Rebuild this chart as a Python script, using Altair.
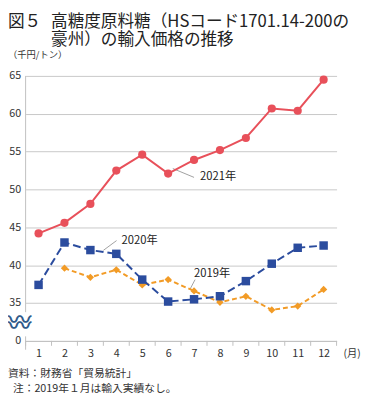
import altair as alt
import pandas as pd

FONT = "Noto Sans CJK JP"

# ---- data ----
months = list(range(1, 13))
v2021 = [44.2, 45.6, 48.1, 52.5, 54.6, 52.1, 53.9, 55.2, 56.8, 60.7, 60.4, 64.5]
v2020 = [37.4, 43.0, 42.0, 41.5, 38.1, 35.2, 35.5, 35.9, 37.9, 40.2, 42.3, 42.6]
v2019 = [None, 39.6, 38.4, 39.4, 37.4, 38.1, 36.6, 35.1, 35.9, 34.1, 34.6, 36.8]
y_ticks = [30, 35, 40, 45, 50, 55, 60, 65]
tick_bounds = [0.5 + i for i in range(13)]

series_names = ["2021年", "2020年", "2019年"]
label_x = [7.23, 4.2, 7.0]
label_y = [51.6, 43.25, 38.86]
leader_x = [6.18, 3.5, 6.84]
leader_y = [52.77, 41.96, 36.8]
leader_x2 = [7.0, 4.01, 7.04]
leader_y2 = [51.6, 43.25, 38.1]

title_fig = "図５"
title_l1 = "高糖度原料糖（HSコード1701.14-200の"
title_l2 = "豪州）の輸入価格の推移"
unit_text = "（千円/トン）"
month_text = "(月)"
source_text = "資料：財務省「貿易統計」"
note_text = "注：2019年１月は輸入実績なし。"

W, H = 318, 271
PL, PT, PR, PB = 18, 65, 26, 58

xscale = alt.Scale(domain=[0.5, 12.5], nice=False, zero=False)
yscale = alt.Scale(domain=[30, 65], nice=False, zero=False)
xaxis = alt.Axis(values=months, format="d", ticks=False, grid=False, domain=True,
                 domainColor="#BFBFBF", labelPadding=7, labelFontSize=11,
                 labelColor="#333333", labelFont=FONT, title=None, labelAngle=0)
yaxis = alt.Axis(values=y_ticks, ticks=False, domain=False, grid=True,
                 gridColor="#C8C8C8", labelPadding=5, labelFontSize=11,
                 labelColor="#333333", labelFont=FONT, title=None,
                 labelExpr="datum.value == 30 ? '0' : datum.label")


def X(f):
    return alt.X(f, type="quantitative", scale=xscale, axis=xaxis)


def Y(f):
    return alt.Y(f, type="quantitative", scale=yscale, axis=yaxis)


def series_df(vals):
    return pd.DataFrame({"m": months, "v": vals}).dropna()


d21 = series_df(v2021)
d20 = series_df(v2020)
d19 = series_df(v2019)

red, blue, orange = "#E8505A", "#2B4C9E", "#F29B26"

l21 = alt.Chart(d21).mark_line(color=red, strokeWidth=2).encode(x=X("m"), y=Y("v"))
p21 = alt.Chart(d21).mark_point(color=red, filled=True, opacity=1, size=70, shape="circle").encode(x=X("m"), y=Y("v"))
l20 = alt.Chart(d20).mark_line(color=blue, strokeWidth=2, strokeDash=[8, 4]).encode(x=X("m"), y=Y("v"))
p20 = alt.Chart(d20).mark_point(color=blue, filled=True, opacity=1, size=75, shape="square").encode(x=X("m"), y=Y("v"))
l19 = alt.Chart(d19).mark_line(color=orange, strokeWidth=2, strokeDash=[5, 3]).encode(x=X("m"), y=Y("v"))
p19 = alt.Chart(d19).mark_point(color=orange, filled=True, opacity=1, size=55, shape="diamond").encode(x=X("m"), y=Y("v"))

# x-axis ticks at month boundaries
ticks = alt.Chart(pd.DataFrame({"b": tick_bounds})).mark_rule(color="#BFBFBF", strokeWidth=1).encode(
    x=X("b"), y=alt.value(H), y2=alt.value(H + 5))

# broken y-axis line
yline = alt.Chart(pd.DataFrame({"b": [0.5], "lo": [33.8], "hi": [65]})).mark_rule(color="#BFBFBF", strokeWidth=1).encode(
    x=X("b"), y=Y("lo"), y2=alt.Y2("hi"))
yline_low = alt.Chart(pd.DataFrame({"b": [0.5], "lo": [30.6]})).mark_rule(color="#BFBFBF", strokeWidth=1).encode(
    x=X("b"), y=Y("lo"), y2=alt.value(H + 9))

# series labels and leader lines
lab_df = pd.DataFrame({"t": series_names, "x": label_x, "y": label_y})
labels = alt.Chart(lab_df).mark_text(align="left", baseline="middle", fontSize=11.5, font=FONT, color="#222222").encode(
    x=X("x"), y=Y("y"), text="t:N")
lead_df = pd.DataFrame({"x": leader_x, "y": leader_y, "x2": leader_x2, "y2": leader_y2})
leaders = alt.Chart(lead_df).mark_rule(color="#888888", strokeWidth=0.8).encode(
    x=X("x"), y=Y("y"), x2="x2:Q", y2="y2:Q")

one = alt.Data(values=[{}])


def free_text(txt, px, py, size, color="#333333", align="left", weight="normal"):
    return alt.Chart(one).mark_text(align=align, baseline="middle", fontSize=size, font=FONT,
                                    color=color, fontWeight=weight).encode(
        x=alt.value(px), y=alt.value(py), text=alt.value(txt))


t_fig = free_text(title_fig, -PL, -55, 17, "#222222")
t_l1 = free_text(title_l1, 26, -55, 17, "#222222")
t_l2 = free_text(title_l2, 26, -37, 17, "#222222")
t_unit = free_text(unit_text, -PL, -21, 9.5)
t_month = free_text(month_text, 325, 284, 10.5)
t_src = free_text(source_text, -PL, 305, 11)
t_note = free_text(note_text, -13, 320, 11)
wave1 = free_text("〰", -6, 251, 24, "#2F5A8A", align="center", weight="bold")
wave2 = free_text("〰", -6, 257, 24, "#2F5A8A", align="center", weight="bold")

chart = alt.layer(
    yline, yline_low, ticks, leaders,
    l19, p19, l20, p20, l21, p21,
    labels, wave1, wave2,
    t_fig, t_l1, t_l2, t_unit, t_month, t_src, t_note,
).properties(
    width=W, height=H,
    autosize=alt.AutoSizeParams(type="none"),
    padding={"left": PL, "top": PT, "right": PR, "bottom": PB},
    background="white",
).configure_view(stroke=None)

chart.save("out.html", embed_options={"renderer": "svg", "actions": False})
